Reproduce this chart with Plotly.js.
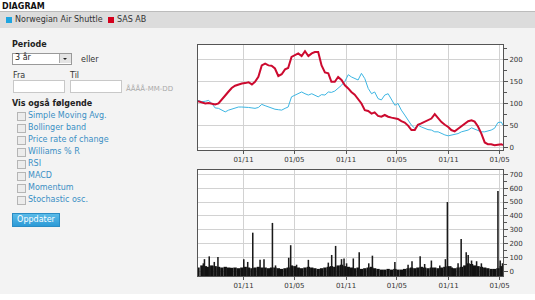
<!DOCTYPE html>
<html><head><meta charset="utf-8">
<script src="https://cdn.plot.ly/plotly-3.0.1.min.js"></script>
<style>
html,body{margin:0;padding:0;width:535px;height:300px;overflow:hidden;background:#fff;font-family:"DejaVu Sans",Verdana,sans-serif;font-size:8px;color:#222;}
#page{position:absolute;left:0;top:0;width:535px;height:300px;}
.abs{position:absolute;white-space:nowrap;}
#content{position:absolute;left:0;top:28px;width:535px;height:266px;background:#f3f3f3;}
#legbar{position:absolute;left:0;top:12px;width:535px;height:16px;background:#dcdcdc;}
.sq{position:absolute;width:6px;height:6px;}
.cb{position:absolute;left:17px;width:7px;height:7px;border:1px solid #b5b5b5;background:#ececec;}
.opt{position:absolute;left:28px;color:#3a8fc4;font-size:8px;}
.inp{position:absolute;height:11px;background:#fff;border:1px solid #c8c8c8;}
#chart{position:absolute;left:190px;top:0;width:345px;height:300px;}
</style></head>
<body><div id="page">
<div class="abs" style="left:2px;top:2px;font-weight:bold;font-size:8px;color:#111;">DIAGRAM</div>
<div class="abs" style="left:0;top:11px;width:535px;height:1px;background:#bcbcbc;"></div>
<div id="legbar"></div>
<div class="sq" style="left:6px;top:17px;background:#1ea5e0;"></div>
<div class="abs" style="left:15px;top:15px;color:#333;">Norwegian Air Shuttle</div>
<div class="sq" style="left:108px;top:17px;background:#d4001c;"></div>
<div class="abs" style="left:117px;top:15px;color:#333;">SAS AB</div>
<div id="content"></div>

<div class="abs" style="left:12px;top:40px;font-weight:bold;">Periode</div>
<div class="inp" style="left:12px;top:53px;width:58px;height:10px;border-color:#999;"></div>
<div class="abs" style="left:15px;top:53px;">3 år</div>
<div class="abs" style="left:59px;top:54px;width:11px;height:9px;background:#e4e4e4;border-left:1px solid #aaa;"></div>
<div class="abs" style="left:63px;top:58px;width:0;height:0;border-left:2px solid transparent;border-right:2px solid transparent;border-top:2px solid #222;"></div>
<div class="abs" style="left:81px;top:55px;color:#333;">eller</div>
<div class="abs" style="left:13px;top:71px;color:#333;">Fra</div>
<div class="abs" style="left:70px;top:71px;color:#333;">Til</div>
<div class="inp" style="left:13px;top:80px;width:50px;"></div>
<div class="inp" style="left:70px;top:80px;width:50px;"></div>
<div class="abs" style="left:126px;top:85px;color:#aaa;font-size:7px;">ÅÅÅÅ-MM-DD</div>
<div class="abs" style="left:12px;top:99px;font-weight:bold;">Vis også følgende</div>

<div class="cb" style="top:112px;"></div><div class="abs opt" style="top:111px;">Simple Moving Avg.</div>
<div class="cb" style="top:124px;"></div><div class="abs opt" style="top:123px;">Bollinger band</div>
<div class="cb" style="top:136px;"></div><div class="abs opt" style="top:135px;">Price rate of change</div>
<div class="cb" style="top:148px;"></div><div class="abs opt" style="top:147px;">Williams % R</div>
<div class="cb" style="top:160px;"></div><div class="abs opt" style="top:159px;">RSI</div>
<div class="cb" style="top:172px;"></div><div class="abs opt" style="top:171px;">MACD</div>
<div class="cb" style="top:184px;"></div><div class="abs opt" style="top:183px;">Momentum</div>
<div class="cb" style="top:196px;"></div><div class="abs opt" style="top:195px;">Stochastic osc.</div>

<div class="abs" style="left:12px;top:213px;width:46px;height:12px;background:linear-gradient(#5bbbe8,#2c9ad6);border:1px solid #2a8cc4;color:#fff;text-align:center;line-height:12px;">Oppdater</div>

<div id="chart"></div>
</div>
<script>
// ---- data ----
const dates = [
"2009-05-23","2009-06-06","2009-06-18","2009-06-30","2009-07-11","2009-07-23","2009-08-04","2009-08-16","2009-08-28","2009-09-09",
"2009-09-20","2009-10-02","2009-10-14","2009-10-26","2009-11-07","2009-11-19","2009-12-01","2009-12-12","2009-12-24","2010-01-05",
"2010-01-17","2010-01-29","2010-02-09","2010-02-21","2010-03-05","2010-03-17","2010-03-29","2010-04-09","2010-04-21","2010-05-03",
"2010-05-15","2010-05-27","2010-06-08","2010-06-20","2010-07-02","2010-07-13","2010-07-25","2010-08-06","2010-08-18","2010-08-30",
"2010-09-10","2010-09-22","2010-10-04","2010-10-16","2010-10-28","2010-11-09","2010-11-20","2010-12-02","2010-12-14","2010-12-26",
"2011-01-07","2011-01-19","2011-01-31","2011-02-11","2011-02-23","2011-03-07","2011-03-19","2011-03-31","2011-04-12","2011-04-24",
"2011-05-05","2011-05-17","2011-05-29","2011-06-10","2011-06-22","2011-07-04","2011-07-15","2011-07-27","2011-08-08","2011-08-20",
"2011-09-01","2011-09-13","2011-09-25","2011-10-07","2011-10-19","2011-10-31","2011-11-11","2011-11-23","2011-12-05","2011-12-17",
"2011-12-29","2012-01-10","2012-01-22","2012-02-02","2012-02-14","2012-02-26","2012-03-09","2012-03-20","2012-04-01","2012-04-13",
"2012-04-25","2012-05-07","2012-05-13"];
const norwegian = [
107,104,105,107,100,90,89,85,81,85,
87,90,92,92,92,91,90,89,91,98,
95,92,90,87,86,85,89,92,115,119,
122,126,122,119,122,119,115,120,119,126,
125,128,134,141,150,165,160,156,153,168,
156,134,122,126,111,108,119,122,108,96,
100,85,74,62,51,44,51,47,44,41,
40,36,36,32,29,27,29,30,32,36,
38,40,45,42,40,36,36,38,40,44,
57,58,51];
const sas = [
105,103,100,101,100,98,100,110,118,127,
135,140,143,145,146,148,143,149,160,186,
190,186,185,179,162,166,177,180,205,209,
213,207,218,207,213,216,216,186,170,168,
149,149,160,153,141,134,126,120,111,100,
85,83,77,80,72,70,74,70,68,66,
65,60,57,50,40,40,52,55,59,62,
66,76,66,58,52,47,40,37,43,49,
55,60,62,59,48,32,12,8,8,6,
7,8,6];
const volumeBase = [
30,45,40,35,45,40,35,30,35,30,
28,30,25,30,35,30,25,30,35,30,
30,25,30,30,25,20,25,30,45,40,
30,25,30,35,30,25,20,25,30,35,
40,35,45,50,40,35,30,25,30,20,
25,30,35,25,20,15,15,20,15,20,
15,15,20,25,30,25,30,35,30,25,
30,30,25,30,35,40,30,25,30,35,
45,60,55,45,40,35,30,25,20,20,
25,40,35];
const peakDates = ["2009-06-11","2009-06-15","2009-07-02","2009-07-20","2009-08-02","2009-11-02","2009-11-16","2009-12-04","2009-12-30","2010-01-13",
"2010-02-12","2010-02-23","2010-04-11","2010-04-18","2010-05-09","2010-06-20","2010-08-30","2010-09-11","2010-09-25","2010-10-16",
"2010-10-25","2010-11-03","2010-11-27","2010-12-18","2011-01-21","2011-02-03","2011-04-24","2011-06-10","2011-06-24","2011-07-23",
"2011-08-08","2011-09-01","2011-10-01","2011-10-21","2011-10-28","2011-11-09","2011-12-05","2011-12-16","2012-01-03","2012-01-10",
"2012-01-22","2012-02-09","2012-02-26","2012-04-25","2012-05-03","2012-05-11"];
const peakVolume = [60,90,110,70,105,90,70,280,85,90,
350,45,100,190,50,85,65,120,185,90,
95,60,95,140,60,115,70,50,75,110,
55,80,45,90,500,40,60,235,140,120,
80,75,60,580,80,60];
const xTicks = ["2009-11-01","2010-05-01","2010-11-01","2011-05-01","2011-11-01","2012-05-01"];
const xTickText = ["01/11","01/05","01/11","01/05","01/11","01/05"];

// ---- chart ----
const volFloor = -31;
const tickFont = {family:"DejaVu Sans, Verdana, sans-serif", size:7, color:"#333"};
const xBase = {type:"date", range:["2009-05-23","2012-05-13"], tickvals:xTicks, ticktext:xTickText,
  showgrid:true, gridcolor:"#d2d2d2", gridwidth:1, showline:true, linecolor:"#555", linewidth:1, mirror:true,
  ticks:"outside", ticklen:3, tickcolor:"#555", tickfont:tickFont, zeroline:false, fixedrange:true};
const traces = [
  {x:dates, y:norwegian, type:"scatter", mode:"lines", line:{color:"#3db6e3", width:1}, xaxis:"x", yaxis:"y", name:"Norwegian Air Shuttle"},
  {x:dates, y:sas, type:"scatter", mode:"lines", line:{color:"#cc0a2f", width:2}, xaxis:"x", yaxis:"y", name:"SAS AB"},
  {x:dates, y:volumeBase.map(v=>v-volFloor), base:volFloor, type:"bar", marker:{color:"#111", line:{width:0}}, width:12*86400000, xaxis:"x2", yaxis:"y2"},
  {x:peakDates, y:peakVolume.map(v=>v-volFloor), base:volFloor, type:"bar", marker:{color:"#1a1a1a", line:{width:0}}, width:5.5*86400000, xaxis:"x2", yaxis:"y2"}
];
const layout = {
  width:345, height:300, margin:{l:8, r:32, t:45, b:24},
  paper_bgcolor:"rgba(0,0,0,0)", plot_bgcolor:"#fff", showlegend:false, barmode:"overlay",
  xaxis:Object.assign({}, xBase, {anchor:"y"}),
  xaxis2:Object.assign({}, xBase, {anchor:"y2"}),
  yaxis:{domain:[0.5455,1], range:[-5,232], side:"right", dtick:50, tick0:0, showgrid:true, gridcolor:"#d2d2d2",
    showline:true, linecolor:"#555", mirror:true, ticks:"outside", ticklen:4, tickcolor:"#555", tickfont:tickFont, zeroline:false,
    minor:{dtick:25, ticks:"outside", ticklen:3, tickcolor:"#555", showgrid:false}, fixedrange:true},
  yaxis2:{domain:[0,0.4589], range:[volFloor,730], side:"right", dtick:100, tick0:0, showgrid:true, gridcolor:"#d2d2d2",
    showline:true, linecolor:"#555", mirror:true, ticks:"outside", ticklen:4, tickcolor:"#555", tickfont:tickFont, zeroline:false,
    minor:{dtick:50, ticks:"outside", ticklen:3, tickcolor:"#555", showgrid:false}, fixedrange:true}
};
Plotly.newPlot("chart", traces, layout, {staticPlot:true, displayModeBar:false});
</script>
</body></html>
